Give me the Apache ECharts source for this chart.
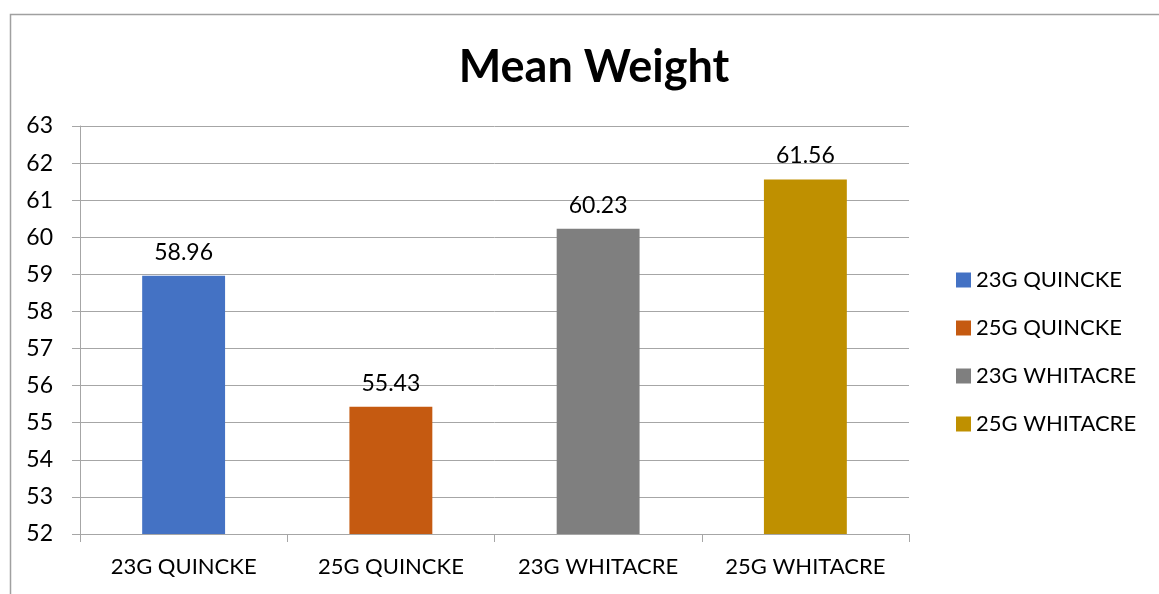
<!DOCTYPE html>
<html>
<head>
<meta charset="utf-8">
<script src="https://cdn.jsdelivr.net/npm/echarts@6/dist/echarts.min.js"></script>
<style>
  html, body { margin: 0; padding: 0; background: #fff; }
  #chart { width: 1159px; height: 594px; }
</style>
</head>
<body>
<div id="chart"></div>
<script>
  // data
  var categories = ['23G QUINCKE', '25G QUINCKE', '23G WHITACRE', '25G WHITACRE']
  var meanWeight = [58.96, 55.43, 60.23, 61.56]
  var barColors = ['#4472C4', '#C55A11', '#7F7F7F', '#BF9000']
  var yTicks = [52, 53, 54, 55, 56, 57, 58, 59, 60, 61, 62, 63]

  var font = 'Lato, "Open Sans", sans-serif'

  // one series per group so the legend lists each bar, all in the same slot
  var series = categories.map(function (name, i) {
    return {
      name: name,
      type: 'bar',
      stack: 'one',
      barWidth: '40%',
      itemStyle: { color: barColors[i] },
      label: {
        show: true,
        position: 'top',
        distance: 12,
        fontFamily: font,
        fontSize: 23,
        color: '#000'
      },
      data: categories.map(function (c, j) { return j === i ? meanWeight[i] : '-' })
    }
  })

  var ec = echarts.init(document.getElementById('chart'))
  ec.setOption({
    animation: false,
    title: {
      text: 'Mean Weight',
      left: 589,
      textAlign: 'center',
      top: 40,
      textStyle: { fontFamily: font, fontSize: 45, fontWeight: 'bold', color: '#000' }
    },
    legend: {
      orient: 'vertical',
      left: 951,
      top: 264,
      itemWidth: 15,
      itemHeight: 15,
      itemGap: 26,
      icon: 'rect',
      textStyle: { fontFamily: font, fontSize: 22, color: '#000', lineHeight: 22 },
      data: categories
    },
    grid: { left: 80, right: 250, top: 126, bottom: 60 },
    xAxis: {
      type: 'category',
      data: categories,
      axisLine: { lineStyle: { color: '#a6a6a6' } },
      axisTick: { show: true, length: 8, interval: 0, alignWithLabel: false, lineStyle: { color: '#a6a6a6' } },
      axisLabel: { interval: 0, hideOverlap: false, margin: 22, fontFamily: font, fontSize: 22, color: '#000' }
    },
    yAxis: {
      type: 'value',
      min: yTicks[0],
      max: yTicks[yTicks.length - 1],
      interval: 1,
      axisLine: { show: true, lineStyle: { color: '#a6a6a6' } },
      axisTick: { show: true, length: 8, lineStyle: { color: '#a6a6a6' } },
      splitLine: { lineStyle: { color: '#a6a6a6' } },
      axisLabel: { margin: 27, fontFamily: font, fontSize: 23, color: '#000' }
    },
    graphic: [{
      type: 'rect',
      shape: { x: 10.5, y: 14.5, width: 1200, height: 700 },
      style: { fill: 'none', stroke: '#a0a0a0', lineWidth: 1.5 },
      silent: true
    }],
    series: series
  })
  window.addEventListener('resize', ec.resize)
</script>
</body>
</html>
